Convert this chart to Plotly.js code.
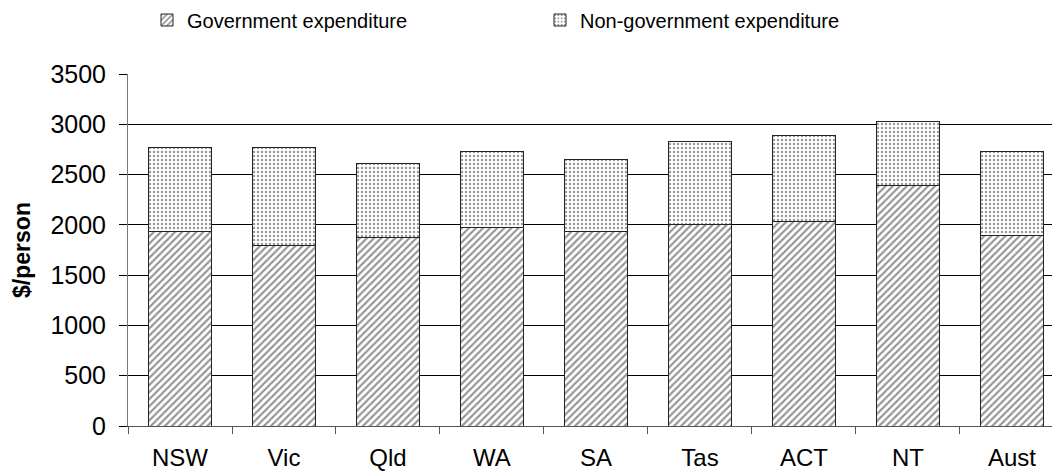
<!DOCTYPE html>
<html>
<head>
<meta charset="utf-8">
<script src="https://cdn.plot.ly/plotly-3.0.1.min.js"></script>
<style>html,body{margin:0;padding:0;background:#fff}#chart{width:1052px;height:473px}</style>
</head>
<body>
<div id="chart"></div>
<script>
const categories = ['NSW', 'Vic', 'Qld', 'WA', 'SA', 'Tas', 'ACT', 'NT', 'Aust'];
const governmentExpenditure = [1935, 1795, 1875, 1974, 1935, 2005, 2034, 2392, 1895];
const nonGovernmentExpenditure = [833, 971, 736, 753, 716, 825, 859, 633, 832];
const yTicks = [0, 500, 1000, 1500, 2000, 2500, 3000, 3500];

const FONT = 'Liberation Sans, Arial, sans-serif';

const traces = [
  {
    type: 'bar', name: 'Government expenditure', x: categories, y: governmentExpenditure,
    width: 0.606,
    marker: {color: '#ffffff', line: {color: '#222222', width: 1},
      pattern: {shape: '/', size: 5, solidity: 0.42, fgcolor: '#2a2a2a', bgcolor: '#ffffff', fillmode: 'overlay'}},
    legend: 'legend'
  },
  {
    type: 'bar', name: 'Non-government expenditure', x: categories, y: nonGovernmentExpenditure,
    width: 0.606,
    marker: {color: '#ffffff', line: {color: '#222222', width: 1},
      pattern: {shape: '.', size: 4, solidity: 0.3, fgcolor: '#333333', bgcolor: '#ffffff', fillmode: 'overlay'}},
    legend: 'legend2'
  }
];

const layout = {
  width: 1052, height: 473,
  margin: {l: 128, r: 0, t: 74, b: 47.3},
  barmode: 'stack',
  paper_bgcolor: '#ffffff', plot_bgcolor: '#ffffff',
  font: {family: FONT, size: 18, color: '#000000'},
  showlegend: true,
  legend: {orientation: 'h', xref: 'container', yref: 'container', x: 147/1052, y: 1 - 20/473,
    xanchor: 'left', yanchor: 'middle', font: {family: FONT, size: 20, color: '#000'}, bgcolor: 'rgba(0,0,0,0)'},
  legend2: {orientation: 'h', xref: 'container', yref: 'container', x: 540/1052, y: 1 - 20/473,
    xanchor: 'left', yanchor: 'middle', font: {family: FONT, size: 20, color: '#000'}, bgcolor: 'rgba(0,0,0,0)'},
  xaxis: {
    type: 'category', range: [-0.5, 8.385], fixedrange: true,
    showline: true, linecolor: '#555555', linewidth: 1,
    ticks: 'outside', tickson: 'boundaries', ticklen: 7, tickcolor: '#555555',
    ticklabelstandoff: 10,
    showgrid: false, tickfont: {family: FONT, size: 24, color: '#000'}
  },
  yaxis: {
    range: [0, 3500], tickvals: yTicks, ticktext: yTicks.map(String),
    showline: true, linecolor: '#777777', linewidth: 1,
    ticks: 'outside', ticklen: 8, tickcolor: '#000000',
    ticklabelstandoff: 8,
    showgrid: true, gridcolor: '#000000', gridwidth: 1, zeroline: false,
    tickfont: {family: FONT, size: 25, color: '#000'},
    title: {text: '<b>$/person</b>', font: {family: FONT, size: 23, color: '#000'}, standoff: 13}
  }
};

Plotly.newPlot('chart', traces, layout, {staticPlot: true, displayModeBar: false});
</script>
</body>
</html>
